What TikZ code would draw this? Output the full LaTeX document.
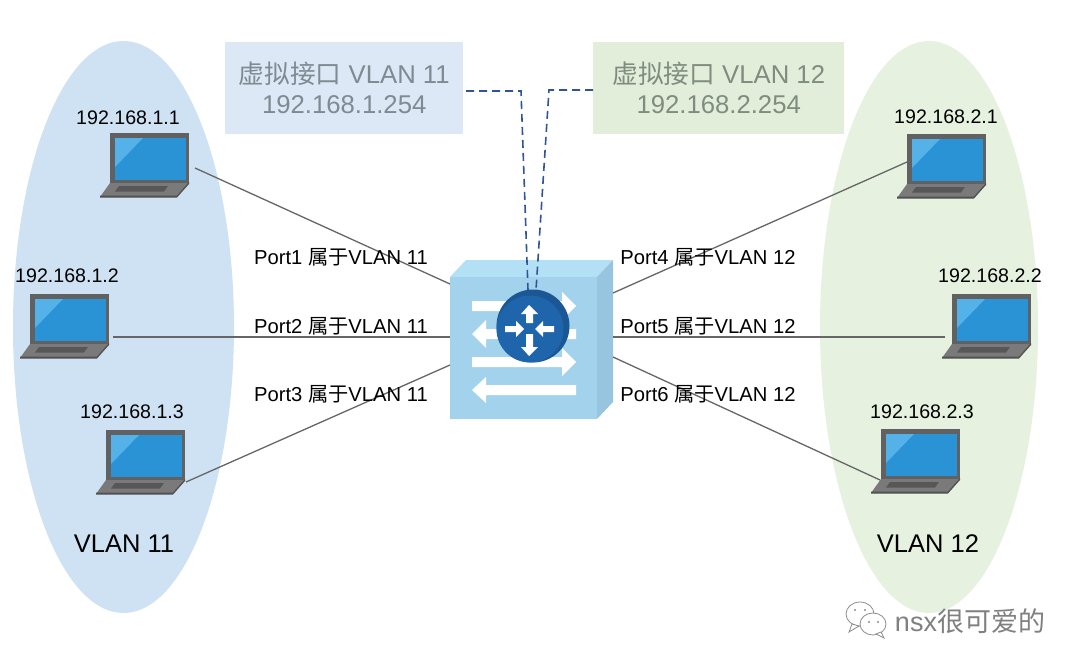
\documentclass[tikz,border=0pt]{standalone}
\usepackage{fontspec}
\setmainfont{Liberation Sans}
\newfontfamily\cjk{Noto Sans CJK SC}
\definecolor{vlanblue}{HTML}{CFE2F3}
\definecolor{vlangreen}{HTML}{E6F1DF}
\definecolor{boxblue}{HTML}{DCE8F5}
\definecolor{boxgreen}{HTML}{E2EEDA}
\definecolor{linegray}{HTML}{666666}
\definecolor{dashnavy}{HTML}{2F5597}
\definecolor{swfront}{HTML}{A3D3EC}
\definecolor{swtop}{HTML}{B4E0F5}
\definecolor{swside}{HTML}{97C5E0}
\definecolor{rtmain}{HTML}{1F65AB}
\definecolor{rtdark}{HTML}{1A5794}
\definecolor{txtb}{HTML}{7F8A92}
\definecolor{txtg}{HTML}{7F8D80}
\tikzset{
 x=1pt,y=-1pt,
 link/.style={draw=linegray,line width=1.3pt},
 vif/.style={draw=dashnavy,line width=1.6pt,dash pattern=on 8pt off 5pt},
 iflabel/.style={font=\fontsize{25.7}{30}\selectfont,align=center,inner sep=0pt,minimum height=92pt},
 iplabel/.style={font=\fontsize{19.6}{22}\selectfont,text=black,inner sep=0pt},
 portlabel/.style={font=\fontsize{20.2}{22}\selectfont,text=black,inner sep=0pt},
 vlanlabel/.style={font=\fontsize{25.5}{30}\selectfont,text=black,inner sep=0pt},
 laptop/.pic={
  \fill[fill=black!62] (0,0) rectangle (79,50);
  \fill[fill=black!52] (0,50) -- (79,50) -- (67,64) -- (-10,64) -- cycle;
  \fill[fill=black!68] (-10,62.5) -- (67,62.5) -- (79,49) -- (79,51) -- (67,64.5) -- (-10,64.5) -- cycle;
  \fill[fill=black!66] (9,53) -- (58,53) -- (54,58.5) -- (5,58.5) -- cycle;
  \fill[fill={rgb,255:red,42;green,147;blue,213}] (5,5) rectangle (76,47);
  \fill[fill={rgb,255:red,84;green,178;blue,232}] (5,5) -- (33,5) -- (5,34) -- cycle;
 },
}
\begin{document}
\begin{tikzpicture}
\useasboundingbox (0,0) rectangle (1080,669);
\fill[white] (0,0) rectangle (1080,669);
% VLAN ellipses
\fill[vlanblue] (123.5,327) ellipse [x radius=110.5,y radius=286];
\fill[vlangreen] (929,327) ellipse [x radius=109,y radius=286];
% interface boxes
\node[fill=boxblue,iflabel,text=txtb,minimum width=238pt,anchor=north west] (vb1) at (225,42)
  {{\cjk 虚拟接口} VLAN 11\\192.168.1.254};
\node[fill=boxgreen,iflabel,text=txtg,minimum width=251pt,anchor=north west] (vb2) at (593,42)
  {{\cjk 虚拟接口} VLAN 12\\192.168.2.254};
% switch
\fill[swtop] (450,277) -- (466,260) -- (613,260) -- (597,277) -- cycle;
\fill[swside] (597,277) -- (613,260) -- (613,402) -- (597,419) -- cycle;
\node[fill=swfront,inner sep=0pt,minimum width=147pt,minimum height=142pt,anchor=north west] (sw) at (450,277) {};
\fill[white] (472,301) -- (562,301) -- (562,292) -- (576,306) -- (562,320) -- (562,311) -- (472,311) -- cycle;
\fill[white] (576,329) -- (486,329) -- (486,320) -- (472,334) -- (486,348) -- (486,339) -- (576,339) -- cycle;
\fill[white] (472,357) -- (562,357) -- (562,348) -- (576,362) -- (562,376) -- (562,367) -- (472,367) -- cycle;
\fill[white] (576,385) -- (486,385) -- (486,377) -- (472,390) -- (486,403) -- (486,395) -- (576,395) -- cycle;
% router
\fill[rtdark] (533,326) circle [radius=36.5];
\fill[rtmain] (530,329) circle [radius=33.5];
\node[inner sep=0pt,minimum size=73pt,circle] (rt) at (533,326) {};
\fill[white] (526,323) -- (526,314) -- (521,314) -- (529,305) -- (538,314) -- (533,314) -- (533,323) -- cycle;
\fill[white] (526,334) -- (526,347) -- (521,347) -- (529,356) -- (538,347) -- (533,347) -- (533,334) -- cycle;
\fill[white] (505,326) -- (516,326) -- (516,321) -- (524,329) -- (516,337) -- (516,332) -- (505,332) -- cycle;
\fill[white] (554,326) -- (543,326) -- (543,321) -- (535,329) -- (543,337) -- (543,332) -- (554,332) -- cycle;
% laptops
\pic at (110,133) {laptop};
\pic at (30,294) {laptop};
\pic at (106,430) {laptop};
\pic at (907,134) {laptop};
\pic at (952,294) {laptop};
\pic at (881,429) {laptop};
% connector ends
\coordinate (h1) at (195,168); \coordinate (s1) at (450,284);
\coordinate (h2) at (113,337); \coordinate (s2) at (450,337);
\coordinate (h3) at (186,482); \coordinate (s3) at (450,365);
\coordinate (h4) at (907,162); \coordinate (s4) at (613,293);
\coordinate (h5) at (945,337); \coordinate (s5) at (613,337);
\coordinate (h6) at (880,480); \coordinate (s6) at (613,357);
\draw[link] (h1) -- (s1);
\draw[link] (h2) -- (s2);
\draw[link] (h3) -- (s3);
\draw[link] (h4) -- (s4);
\draw[link] (h5) -- (s5);
\draw[link] (h6) -- (s6);
% virtual interface dashes
\coordinate (d1) at (466,91); \coordinate (k1) at (521,91); \coordinate (r1) at (528,290);
\coordinate (d2) at (593,90); \coordinate (k2) at (549,90); \coordinate (r2) at (536,290);
\draw[vif] (d1) -- (k1) -- (r1);
\draw[vif] (d2) -- (k2) -- (r2);
% labels
\node[iplabel] (ip1) at (128,118) {192.168.1.1};
\node[iplabel] (ip2) at (67,276) {192.168.1.2};
\node[iplabel] (ip3) at (132,412) {192.168.1.3};
\node[iplabel] (ip4) at (946,117) {192.168.2.1};
\node[iplabel] (ip5) at (990,276) {192.168.2.2};
\node[iplabel] (ip6) at (922,412) {192.168.2.3};
\node[portlabel] (pt1) at (341,257) {Port1 {\cjk 属于}VLAN 11};
\node[portlabel] (pt2) at (341,326) {Port2 {\cjk 属于}VLAN 11};
\node[portlabel] (pt3) at (341,394) {Port3 {\cjk 属于}VLAN 11};
\node[portlabel] (pt4) at (708,257) {Port4 {\cjk 属于}VLAN 12};
\node[portlabel] (pt5) at (708,326) {Port5 {\cjk 属于}VLAN 12};
\node[portlabel] (pt6) at (708,394) {Port6 {\cjk 属于}VLAN 12};
\node[vlanlabel] (v11) at (124,544) {VLAN 11};
\node[vlanlabel] (v12) at (928,544) {VLAN 12};
% watermark
\begin{scope}[draw=black!45,line width=0.8pt,fill=white]
\filldraw (860,614) ellipse [x radius=14,y radius=12];
\filldraw (852,624) -- (849,632) -- (859,626) -- cycle;
\filldraw (873,624) ellipse [x radius=13,y radius=11];
\filldraw (881,632) -- (884,638) -- (876,634) -- cycle;
\end{scope}
\fill[black!45] (855,610) circle [radius=1.2] (865,610) circle [radius=1.2] (869,622) circle [radius=1.1] (878,622) circle [radius=1.1];
\node[font=\fontsize{27}{30}\selectfont,text=black!50,inner sep=0pt] (wm) at (970,621) {nsx{\cjk 很可爱的}};
\end{tikzpicture}
\end{document}
